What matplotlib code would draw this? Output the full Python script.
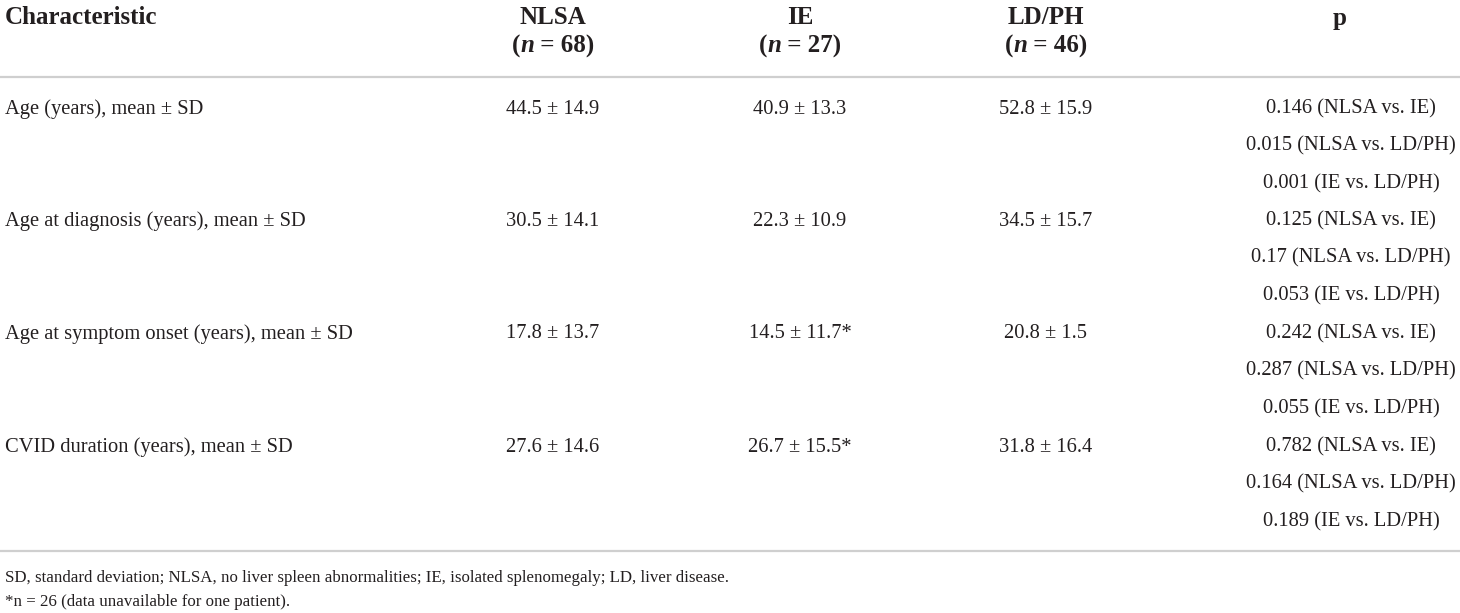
import matplotlib
matplotlib.use("Agg")
import matplotlib.pyplot as plt

# table content
groups = ["NLSA", "IE", "LD/PH"]
group_n = [68, 27, 46]
characteristics = [
    "Age (years), mean ± SD",
    "Age at diagnosis (years), mean ± SD",
    "Age at symptom onset (years), mean ± SD",
    "CVID duration (years), mean ± SD",
]
nlsa_vals = ["44.5 ± 14.9", "30.5 ± 14.1", "17.8 ± 13.7", "27.6 ± 14.6"]
ie_vals = ["40.9 ± 13.3", "22.3 ± 10.9", "14.5 ± 11.7*", "26.7 ± 15.5*"]
ldph_vals = ["52.8 ± 15.9", "34.5 ± 15.7", "20.8 ± 1.5", "31.8 ± 16.4"]
p_vals = [
    ["0.146", "0.015", "0.001"],
    ["0.125", "0.17", "0.053"],
    ["0.242", "0.287", "0.055"],
    ["0.782", "0.164", "0.189"],
]
comparisons = ["NLSA vs. IE", "NLSA vs. LD/PH", "IE vs. LD/PH"]
footnotes = [
    "SD, standard deviation; NLSA, no liver spleen abnormalities; IE, isolated splenomegaly; LD, liver disease.",
    "*n = 26 (data unavailable for one patient).",
]

W, H = 1460, 613
FONT = "Liberation Serif"
TXT = "#231f20"
RULE = "#cfcfcf"
BODY = 14.8
HEAD = 18.0

fig = plt.figure(figsize=(W / 100, H / 100), dpi=100)
ax = fig.add_axes([0, 0, 1, 1])
ax.set_xlim(0, W)
ax.set_ylim(H, 0)
ax.axis("off")

col_x = [553, 800, 1046]
p_x = 1351
row_y = [109, 221, 334, 447]
p_step = 37.3

# header
ax.text(5, 18, "Characteristic", family=FONT, fontsize=HEAD, weight="bold",
        ha="left", va="center", color=TXT)
ax.text(1340, 18, "p", family=FONT, fontsize=HEAD, weight="bold",
        ha="center", va="center", color=TXT)

renderer = fig.canvas.get_renderer()
inv = ax.transData.inverted()


def centered_pieces(x, y, pieces):
    """Draw a run of text pieces with mixed styles, centred on x."""
    arts = []
    cur = 0.0
    for s, style in pieces:
        t = ax.text(cur, y, s, family=FONT, fontsize=HEAD, weight="bold",
                    style=style, ha="left", va="center", color=TXT)
        bb = t.get_window_extent(renderer)
        w = inv.transform((bb.x1, 0))[0] - inv.transform((bb.x0, 0))[0]
        arts.append((t, cur))
        cur += w
    x0 = x - cur / 2
    for t, off in arts:
        t.set_x(x0 + off)


for g, n, x in zip(groups, group_n, col_x):
    ax.text(x, 18, g, family=FONT, fontsize=HEAD, weight="bold",
            ha="center", va="center", color=TXT)
    centered_pieces(x, 46, [("(", "normal"), ("n", "italic"), (f" = {n})", "normal")])

ax.plot([0, W], [77, 77], color=RULE, lw=1.6, solid_capstyle="butt")

# body rows
for i, y in enumerate(row_y):
    ax.text(5, y, characteristics[i], family=FONT, fontsize=BODY,
            ha="left", va="center", color=TXT)
    for vals, x in zip([nlsa_vals, ie_vals, ldph_vals], col_x):
        ax.text(x, y, vals[i], family=FONT, fontsize=BODY,
                ha="center", va="center", color=TXT)
    for k, (p, c) in enumerate(zip(p_vals[i], comparisons)):
        ax.text(p_x, y + k * p_step, f"{p} ({c})", family=FONT, fontsize=BODY,
                ha="center", va="center", color=TXT)

ax.plot([0, W], [551, 551], color=RULE, lw=1.6, solid_capstyle="butt")

# footnotes
for j, f in enumerate(footnotes):
    ax.text(5, 578 + j * 24, f, family=FONT, fontsize=12.2,
            ha="left", va="center", color=TXT)

fig.savefig("out.png", dpi=100, facecolor="white")
